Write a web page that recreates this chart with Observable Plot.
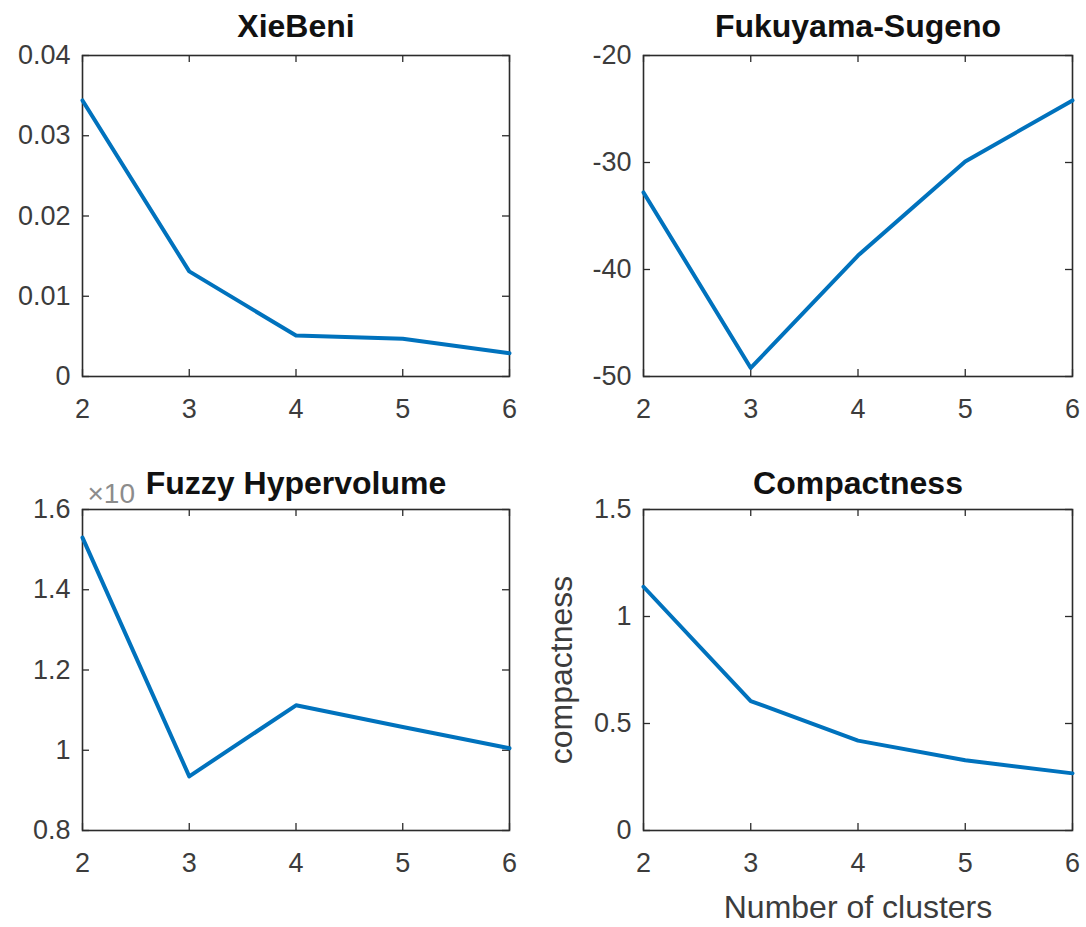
<!DOCTYPE html>
<html>
<head>
<meta charset="utf-8">
<script src="https://cdn.jsdelivr.net/npm/d3@7"></script>
<script src="https://cdn.jsdelivr.net/npm/@observablehq/plot@0.6"></script>
<style>
  html, body { margin: 0; padding: 0; background: #fff; }
  #wrap { position: relative; width: 1086px; height: 927px; overflow: hidden; }
  #wrap > div { position: absolute; }
  svg { overflow: visible; }
</style>
</head>
<body>
<div id="wrap">
  <div id="p1" style="left:0px;top:0px"></div>
  <div id="p2" style="left:543px;top:0px"></div>
  <div id="p3" style="left:0px;top:453px"></div>
  <div id="p4" style="left:543px;top:453px"></div>
</div>
<script>
// ---- data ----
const clusters = [2, 3, 4, 5, 6];
const xTicks = [2, 3, 4, 5, 6];
const xTickLabels = ["2", "3", "4", "5", "6"];

const xieBeni = [0.0344, 0.0131, 0.0051, 0.0047, 0.0029];
const xieBeniTicks = [0, 0.01, 0.02, 0.03, 0.04];
const xieBeniTickLabels = ["0", "0.01", "0.02", "0.03", "0.04"];

const fukuyama = [-32.8, -49.2, -38.7, -29.9, -24.2];
const fukuyamaTicks = [-50, -40, -30, -20];
const fukuyamaTickLabels = ["-50", "-40", "-30", "-20"];

const hypervolume = [1.53, 0.935, 1.112, 1.058, 1.005];
const hypervolumeTicks = [0.8, 1.0, 1.2, 1.4, 1.6];
const hypervolumeTickLabels = ["0.8", "1", "1.2", "1.4", "1.6"];

const compactness = [1.139, 0.605, 0.42, 0.328, 0.267];
const compactnessTicks = [0, 0.5, 1.0, 1.5];
const compactnessTickLabels = ["0", "0.5", "1", "1.5"];

const titles = ["XieBeni", "Fukuyama-Sugeno", "Fuzzy Hypervolume", "Compactness"];
const xAxisLabel = "Number of clusters";
const yAxisLabel = "compactness";
const exponentLabel = "×10";

// ---- styles ----
const LINE = "#0072BD";
const AXIS = "#2b2b2b";
const TICKTEXT = "#3c3c3c";
const FONT = "'Liberation Sans', Arial, Helvetica, sans-serif";
const TICKLEN = 7;

function panel(cfg) {
  const W = 543 - cfg.ml - cfg.mr;
  const H = cfg.height - cfg.mt - cfg.mb;
  const rows = clusters.map((c, i) => ({x: c, y: cfg.values[i]}));
  const yFmt = d => cfg.yLabels[cfg.yTicks.indexOf(d)];
  const xFmt = d => xTickLabels[xTicks.indexOf(d)];
  const marks = [
    // inward ticks on all four sides
    Plot.tickX(xTicks, {x: d => d, stroke: AXIS, strokeWidth: 1.3, insetTop: H - TICKLEN}),
    Plot.tickX(xTicks, {x: d => d, stroke: AXIS, strokeWidth: 1.3, insetBottom: H - TICKLEN}),
    Plot.tickY(cfg.yTicks, {y: d => d, stroke: AXIS, strokeWidth: 1.3, insetRight: W - TICKLEN}),
    Plot.tickY(cfg.yTicks, {y: d => d, stroke: AXIS, strokeWidth: 1.3, insetLeft: W - TICKLEN}),
    Plot.frame({stroke: AXIS, strokeWidth: 1.6}),
    Plot.line(rows, {x: "x", y: "y", stroke: LINE, strokeWidth: 4, strokeLinejoin: "round"}),
    Plot.axisX({anchor: "bottom", ticks: xTicks, tickSize: 0, tickPadding: 22, tickFormat: xFmt,
      fontSize: 27, fill: TICKTEXT, label: null, style: {letterSpacing: "1.8px"}}),
    Plot.axisY({anchor: "left", ticks: cfg.yTicks, tickSize: 0, tickPadding: 12, tickFormat: yFmt,
      fontSize: 27, fill: TICKTEXT, label: null, style: {letterSpacing: "1.8px"}}),
  ];
  if (cfg.exponent) {
    marks.push(Plot.text([cfg.exponent], {frameAnchor: "top-left", text: d => d, dx: 5, dy: -15,
      fontSize: 28, fill: "#8c8c8c", textAnchor: "start", lineAnchor: "middle",
      style: {letterSpacing: "1.5px"}}));
  }
  if (cfg.xLabel) {
    marks.push(Plot.text([cfg.xLabel], {frameAnchor: "bottom", text: d => d, dy: 77,
      fontSize: 32, fill: TICKTEXT, textAnchor: "middle", lineAnchor: "middle",
      style: {letterSpacing: "1.8px"}}));
  }
  if (cfg.yLabel) {
    marks.push(Plot.text([cfg.yLabel], {frameAnchor: "left", text: d => d, dx: -82, rotate: -90,
      fontSize: 32, fill: TICKTEXT, textAnchor: "middle", lineAnchor: "middle",
      style: {letterSpacing: "1.8px"}}));
  }
  marks.push(Plot.text([cfg.title], {frameAnchor: "top", text: d => d, dy: cfg.titleDy,
    fontSize: 32, fontWeight: "bold", fill: "#111", textAnchor: "middle", lineAnchor: "middle",
    style: {letterSpacing: "2.5px"}}));
  const svg = Plot.plot({
    width: 543, height: cfg.height,
    marginLeft: cfg.ml, marginRight: cfg.mr, marginTop: cfg.mt, marginBottom: cfg.mb,
    style: {fontFamily: FONT, fontSize: "27px", color: TICKTEXT, background: "#fff", overflow: "visible"},
    x: {domain: [2, 6]},
    y: {domain: cfg.yDomain},
    marks
  });
  document.getElementById(cfg.id).appendChild(svg);
}

panel({id: "p1", values: xieBeni, yDomain: [0, 0.04], yTicks: xieBeniTicks, yLabels: xieBeniTickLabels,
  title: titles[0], height: 453, ml: 82, mr: 34, mt: 55, mb: 77, titleDy: -29});
panel({id: "p2", values: fukuyama, yDomain: [-50, -20], yTicks: fukuyamaTicks, yLabels: fukuyamaTickLabels,
  title: titles[1], height: 453, ml: 100, mr: 14, mt: 55, mb: 77, titleDy: -29});
panel({id: "p3", values: hypervolume, yDomain: [0.8, 1.6], yTicks: hypervolumeTicks, yLabels: hypervolumeTickLabels,
  title: titles[2], height: 474, ml: 82, mr: 34, mt: 56, mb: 97, titleDy: -26, exponent: exponentLabel});
panel({id: "p4", values: compactness, yDomain: [0, 1.5], yTicks: compactnessTicks, yLabels: compactnessTickLabels,
  title: titles[3], height: 474, ml: 100, mr: 14, mt: 56, mb: 97, titleDy: -26,
  xLabel: xAxisLabel, yLabel: yAxisLabel});
</script>
</body>
</html>
